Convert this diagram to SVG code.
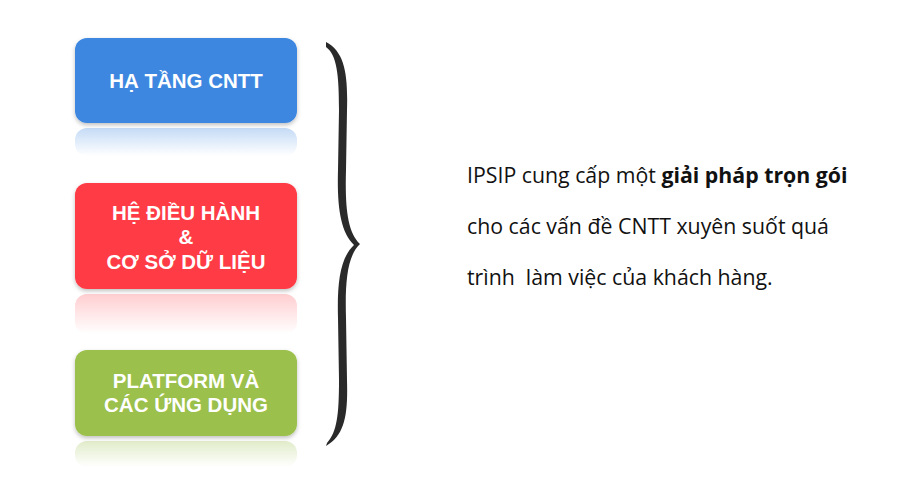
<svg xmlns="http://www.w3.org/2000/svg" width="900" height="495" viewBox="0 0 900 495">
<defs>
<style>
.lbl{font-family:"Liberation Sans",Arial,sans-serif;font-weight:bold;font-size:20.5px;fill:#fff;text-anchor:middle}
.body{font-family:"Open Sans","Noto Sans",sans-serif;font-size:21.3px;fill:#111}
</style>
<linearGradient id="fadeB" x1="0" y1="0" x2="0" y2="1"><stop offset="0" stop-color="#3C87E0" stop-opacity="0.3"/><stop offset="1" stop-color="#3C87E0" stop-opacity="0"/></linearGradient>
<linearGradient id="fadeR" x1="0" y1="0" x2="0" y2="1"><stop offset="0" stop-color="#FF3B45" stop-opacity="0.25"/><stop offset="1" stop-color="#FF3B45" stop-opacity="0"/></linearGradient>
<linearGradient id="fadeG" x1="0" y1="0" x2="0" y2="1"><stop offset="0" stop-color="#9BC04C" stop-opacity="0.3"/><stop offset="1" stop-color="#9BC04C" stop-opacity="0"/></linearGradient>
<filter id="sh" x="-10%" y="-10%" width="120%" height="130%"><feDropShadow dx="0" dy="2" stdDeviation="2" flood-color="#000" flood-opacity="0.25"/></filter>
</defs>
<rect width="900" height="495" fill="#fff"/>
<g id="node-ha-tang">
<rect x="75" y="128" width="222" height="28" rx="12" fill="url(#fadeB)"/>
<rect x="75" y="38" width="222" height="85" rx="12" fill="#3C87E0" filter="url(#sh)"/>
<text class="lbl" x="186" y="88">HẠ TẦNG CNTT</text>
</g>
<g id="node-he-dieu-hanh">
<rect x="75" y="294" width="222" height="40" rx="12" fill="url(#fadeR)"/>
<rect x="75" y="183" width="222" height="106" rx="12" fill="#FF3B45" filter="url(#sh)"/>
<text class="lbl" x="186" y="220">HỆ ĐIỀU HÀNH</text>
<text class="lbl" x="186" y="244">&amp;</text>
<text class="lbl" x="186" y="269">CƠ SỞ DỮ LIỆU</text>
</g>
<g id="node-platform">
<rect x="75" y="441" width="222" height="26" rx="12" fill="url(#fadeG)"/>
<rect x="75" y="350" width="222" height="86" rx="12" fill="#9BC04C" filter="url(#sh)"/>
<text class="lbl" x="186" y="388">PLATFORM VÀ</text>
<text class="lbl" x="186" y="412">CÁC ỨNG DỤNG</text>
</g>
<g id="connectors">
<path d="M326,42 C345,52 348,75 347,110 L346,170 C345,205 347,232 360,244 C347,256 345,283 346,318 L347,380 C348,415 345,435 326,446 L327,443 C337,432 339,415 339,380 L338,318 C337,283 340,258 354,245 C340,232 337,205 338,170 L339,110 C339,75 337,55 326,47 Z" fill="#2a2a2a"/>
</g>
<g id="node-text">
<text class="body" x="467" y="183">IPSIP cung cấp một <tspan font-weight="bold">giải pháp trọn gói</tspan></text>
<text class="body" x="467" y="234">cho các vấn đề CNTT xuyên suốt quá</text>
<text class="body" x="467" y="285" xml:space="preserve">trình  làm việc của khách hàng.</text>
</g>
</svg>
